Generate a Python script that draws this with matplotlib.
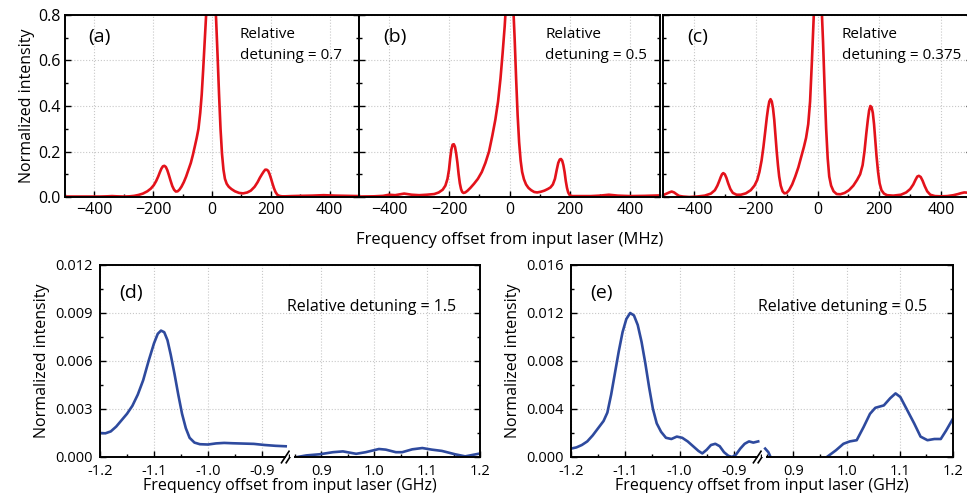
import numpy as np
import matplotlib
matplotlib.use('Agg')
import matplotlib.pyplot as plt
from matplotlib.ticker import MultipleLocator, FormatStrFormatter

plt.rcParams['font.family'] = ['Open Sans', 'DejaVu Sans']

# ── Data (MHz, normalized intensity) ───────────────────────────────────────
# (a) relative detuning 0.7
a_pts = [(-500, 0.002), (-440, 0.002), (-380, 0.002), (-355, 0.003), (-340, 0.004), (-325, 0.003),
         (-300, 0.002), (-280, 0.003), (-265, 0.005), (-250, 0.009), (-235, 0.015), (-220, 0.025),
         (-208, 0.037), (-198, 0.052), (-190, 0.07), (-183, 0.09), (-177, 0.11), (-172, 0.125),
         (-167, 0.135), (-162, 0.137), (-157, 0.132), (-152, 0.118), (-147, 0.098), (-141, 0.072),
         (-135, 0.048), (-129, 0.032), (-123, 0.024), (-117, 0.025), (-111, 0.032), (-104, 0.045),
         (-96, 0.065), (-88, 0.09), (-80, 0.12), (-72, 0.15), (-65, 0.185), (-58, 0.225),
         (-52, 0.26), (-46, 0.3), (-40, 0.37), (-35, 0.45), (-30, 0.56), (-25, 0.68), (-20, 0.8),
         (-14, 0.92), (-8, 0.99), (-3, 1.0), (3, 0.98), (9, 0.9), (14, 0.78), (19, 0.62),
         (24, 0.45), (29, 0.3), (34, 0.19), (39, 0.12), (44, 0.08), (50, 0.058), (57, 0.045),
         (66, 0.035), (78, 0.025), (92, 0.018), (106, 0.016), (120, 0.02), (132, 0.028),
         (145, 0.045), (155, 0.065), (163, 0.085), (170, 0.1), (176, 0.112), (181, 0.12),
         (186, 0.12), (191, 0.115), (196, 0.1), (201, 0.08), (206, 0.058), (211, 0.038),
         (216, 0.022), (222, 0.01), (229, 0.005), (238, 0.003), (250, 0.003), (270, 0.004),
         (300, 0.005), (340, 0.006), (380, 0.008), (420, 0.006), (460, 0.005), (500, 0.004)]

# (b) relative detuning 0.5
b_pts = [(-500, 0.002), (-450, 0.003), (-420, 0.005), (-400, 0.01), (-380, 0.008), (-350, 0.015),
         (-325, 0.01), (-300, 0.008), (-275, 0.01), (-250, 0.013), (-235, 0.02), (-222, 0.032),
         (-213, 0.05), (-206, 0.08), (-201, 0.12), (-197, 0.17), (-193, 0.21), (-189, 0.23),
         (-185, 0.232), (-181, 0.22), (-177, 0.19), (-173, 0.15), (-169, 0.1), (-165, 0.06),
         (-161, 0.035), (-157, 0.022), (-153, 0.018), (-147, 0.02), (-140, 0.027), (-130, 0.04),
         (-118, 0.058), (-105, 0.08), (-92, 0.11), (-80, 0.15), (-68, 0.2), (-57, 0.27),
         (-47, 0.34), (-38, 0.42), (-30, 0.52), (-23, 0.63), (-16, 0.75), (-10, 0.88), (-4, 0.98),
         (2, 1.0), (7, 0.96), (12, 0.85), (17, 0.7), (22, 0.52), (27, 0.36), (32, 0.24), (37, 0.16),
         (42, 0.11), (48, 0.078), (55, 0.055), (63, 0.04), (72, 0.03), (82, 0.022), (92, 0.02),
         (104, 0.023), (116, 0.028), (127, 0.035), (136, 0.042), (144, 0.055), (151, 0.08),
         (157, 0.12), (162, 0.15), (167, 0.165), (171, 0.167), (175, 0.16), (179, 0.14),
         (183, 0.11), (187, 0.07), (191, 0.04), (195, 0.02), (199, 0.01), (204, 0.005),
         (210, 0.004), (220, 0.004), (240, 0.004), (270, 0.004), (300, 0.006), (330, 0.01),
         (360, 0.006), (400, 0.004), (450, 0.005), (500, 0.007)]

# (c) relative detuning 0.375
c_pts = [(-500, 0.008), (-490, 0.014), (-480, 0.02), (-472, 0.024), (-464, 0.02), (-456, 0.012),
         (-448, 0.005), (-435, 0.002), (-415, 0.0), (-390, 0.002), (-365, 0.006), (-345, 0.015),
         (-332, 0.03), (-324, 0.05), (-318, 0.07), (-313, 0.088), (-309, 0.1), (-305, 0.105),
         (-300, 0.1), (-295, 0.085), (-289, 0.06), (-282, 0.035), (-274, 0.018), (-262, 0.01),
         (-248, 0.01), (-232, 0.016), (-216, 0.03), (-204, 0.05), (-195, 0.075), (-188, 0.11),
         (-181, 0.16), (-175, 0.22), (-169, 0.29), (-164, 0.35), (-160, 0.39), (-156, 0.42),
         (-152, 0.43), (-148, 0.42), (-144, 0.39), (-140, 0.34), (-136, 0.27), (-132, 0.2),
         (-128, 0.14), (-124, 0.09), (-119, 0.05), (-113, 0.025), (-107, 0.016), (-100, 0.018),
         (-92, 0.03), (-82, 0.055), (-72, 0.09), (-62, 0.13), (-52, 0.18), (-44, 0.22),
         (-37, 0.26), (-30, 0.32), (-24, 0.42), (-18, 0.6), (-12, 0.8), (-6, 0.95), (0, 1.0),
         (6, 0.98), (12, 0.88), (18, 0.68), (23, 0.48), (28, 0.3), (33, 0.17), (38, 0.09),
         (44, 0.05), (52, 0.025), (62, 0.013), (74, 0.012), (88, 0.018), (102, 0.03),
         (116, 0.05), (128, 0.075), (138, 0.1), (146, 0.14), (152, 0.2), (158, 0.28),
         (163, 0.34), (167, 0.38), (171, 0.4), (175, 0.395), (179, 0.37), (183, 0.32),
         (187, 0.25), (191, 0.18), (196, 0.11), (201, 0.06), (207, 0.03), (215, 0.015),
         (225, 0.008), (245, 0.006), (270, 0.01), (287, 0.02), (300, 0.035), (310, 0.055),
         (317, 0.075), (323, 0.09), (328, 0.093), (334, 0.088), (340, 0.072), (347, 0.048),
         (355, 0.025), (365, 0.01), (380, 0.004), (400, 0.003), (420, 0.004), (440, 0.008),
         (455, 0.013), (465, 0.017), (475, 0.02), (485, 0.019), (500, 0.02)]

# (d) relative detuning 1.5, negative / positive branch (GHz)
d_neg_pts = [(-1.2, 0.0015), (-1.19, 0.00148), (-1.18, 0.0016), (-1.17, 0.0019), (-1.16, 0.0023),
             (-1.15, 0.0027), (-1.14, 0.0032), (-1.13, 0.0039), (-1.12, 0.0048), (-1.11, 0.006),
             (-1.1, 0.0071), (-1.093, 0.0077), (-1.087, 0.0079), (-1.081, 0.0078), (-1.075, 0.0073),
             (-1.069, 0.0064), (-1.062, 0.0052), (-1.055, 0.0039), (-1.048, 0.0027), (-1.041, 0.0018),
             (-1.034, 0.0012), (-1.025, 0.0009), (-1.015, 0.0008), (-1.0, 0.00078), (-0.985, 0.00085),
             (-0.97, 0.00088), (-0.955, 0.00086), (-0.935, 0.00084), (-0.915, 0.00082),
             (-0.895, 0.00075), (-0.875, 0.0007), (-0.856, 0.00067)]
d_pos_pts = [(0.855, 0.0), (0.872, 0.0001), (0.897, 0.00017), (0.922, 0.0003), (0.941, 0.00035),
             (0.966, 0.0002), (0.984, 0.0003), (1.009, 0.0005), (1.022, 0.00046), (1.041, 0.0003),
             (1.053, 0.0003), (1.072, 0.00048), (1.091, 0.00056), (1.109, 0.00046), (1.128, 0.00038),
             (1.153, 0.00017), (1.172, 0.00004), (1.197, 0.0002)]

# (e) relative detuning 0.5
e_neg_pts = [(-1.2, 0.0007), (-1.19, 0.0008), (-1.18, 0.001), (-1.17, 0.0013), (-1.16, 0.0018),
             (-1.15, 0.0024), (-1.14, 0.003), (-1.133, 0.0037), (-1.126, 0.0052), (-1.119, 0.007),
             (-1.112, 0.0088), (-1.105, 0.0104), (-1.098, 0.0115), (-1.091, 0.012), (-1.084, 0.0118),
             (-1.077, 0.011), (-1.07, 0.0096), (-1.063, 0.0078), (-1.056, 0.0058), (-1.049, 0.004),
             (-1.042, 0.0028), (-1.034, 0.0021), (-1.025, 0.0016), (-1.015, 0.0015), (-1.005, 0.0017),
             (-0.995, 0.0016), (-0.985, 0.0013), (-0.975, 0.0009), (-0.965, 0.0005), (-0.958, 0.0003),
             (-0.95, 0.0006), (-0.942, 0.001), (-0.934, 0.0011), (-0.926, 0.0009), (-0.918, 0.0004),
             (-0.91, 0.0001), (-0.903, 0.0), (-0.896, 0.0002), (-0.888, 0.0007), (-0.88, 0.0011),
             (-0.872, 0.0013), (-0.864, 0.0012), (-0.855, 0.0013)]
e_pos_pts = [(0.847, 0.0007), (0.853, 0.0004), (0.857, 0.0), (0.862, -0.0004), (np.nan, np.nan),
             (0.958, -0.0004), (0.963, 0.0), (0.98, 0.00056), (0.994, 0.0011), (1.006, 0.0013),
             (1.019, 0.0014), (1.032, 0.0025), (1.044, 0.0036), (1.054, 0.0041), (1.07, 0.0043),
             (1.082, 0.0049), (1.092, 0.0053), (1.101, 0.005), (1.114, 0.0039), (1.127, 0.0028),
             (1.139, 0.0017), (1.152, 0.0014), (1.165, 0.0015), (1.177, 0.0015), (1.187, 0.0022),
             (1.2, 0.0032)]

top_labels = ['(a)', '(b)', '(c)']
top_detunings = ['0.7', '0.5', '0.375']
top_curves = [a_pts, b_pts, c_pts]

bottom_labels = ['(d)', '(e)']
bottom_detunings = ['1.5', '0.5']
bottom_ymax = [0.012, 0.016]
bottom_ystep = [0.003, 0.004]
bottom_curves = [(d_neg_pts, d_pos_pts), (e_neg_pts, e_pos_pts)]

RED = '#e3121b'
BLUE = '#2e4a9e'
W, H = 967, 493


def fig_rect(x0, y0, x1, y1):
    """Pixel box (top-left origin) -> figure fraction rect."""
    return [x0 / W, 1 - y1 / H, (x1 - x0) / W, (y1 - y0) / H]


def style_axis(ax, size=11.5):
    ax.tick_params(which='both', direction='in', labelsize=size, width=1.0)
    ax.tick_params(which='major', length=4)
    ax.tick_params(which='minor', length=2.5)
    for s in ax.spines.values():
        s.set_linewidth(1.4)
    ax.grid(True, which='major', linestyle=':', color='#c8c8c8', linewidth=0.8)
    ax.set_axisbelow(True)


fig = plt.figure(figsize=(W / 100, H / 100), dpi=100)

# ── Top row ────────────────────────────────────────────────────────────────
top_boxes = [(65, 15, 359, 197), (359, 15, 660, 197), (663, 15, 972, 197)]
note_x = [0.595, 0.618, 0.579]
for i, box in enumerate(top_boxes):
    xs, ys = zip(*top_curves[i])
    ax = fig.add_axes(fig_rect(*box))
    style_axis(ax)
    ax.plot(xs, ys, color=RED, lw=1.9)
    ax.set_xlim(-500, 500)
    ax.set_ylim(0, 0.8)
    ax.xaxis.set_major_locator(MultipleLocator(200))
    ax.xaxis.set_minor_locator(MultipleLocator(100))
    ax.yaxis.set_major_locator(MultipleLocator(0.2))
    ax.yaxis.set_minor_locator(MultipleLocator(0.1))
    ax.yaxis.set_major_formatter(FormatStrFormatter('%.1f'))
    ax.tick_params(which='both', right=True)
    if i == 0:
        ax.set_ylabel('Normalized intensity', fontsize=11.5, labelpad=2)
    else:
        ax.tick_params(labelleft=False)
    ax.text(0.08, 0.85, top_labels[i], transform=ax.transAxes, fontsize=14)
    ax.text(note_x[i], 0.76, 'Relative\ndetuning = ' + top_detunings[i], transform=ax.transAxes,
            fontsize=11, linespacing=1.5)

fig.text(510 / W, 1 - 240 / H, 'Frequency offset from input laser (MHz)',
         ha='center', va='center', fontsize=12)

# ── Bottom row (broken x axis) ─────────────────────────────────────────────
bottom_boxes = [(100, 290, 480), (571, 762, 953)]
for i, (x0, xm, x1) in enumerate(bottom_boxes):
    neg_pts, pos_pts = bottom_curves[i]
    axl = fig.add_axes(fig_rect(x0, 265, xm, 457))
    axr = fig.add_axes(fig_rect(xm, 265, x1, 457))
    for ax in (axl, axr):
        style_axis(ax, size=10.5)
        ax.set_ylim(0, bottom_ymax[i])
        ax.yaxis.set_major_locator(MultipleLocator(bottom_ystep[i]))
        ax.yaxis.set_minor_locator(MultipleLocator(bottom_ystep[i] / 2))
        ax.xaxis.set_major_locator(MultipleLocator(0.1))
        ax.xaxis.set_minor_locator(MultipleLocator(0.05))
        ax.xaxis.set_major_formatter(FormatStrFormatter('%.1f'))
        ax.tick_params(axis='x', pad=5)
    axl.plot(*zip(*neg_pts), color=BLUE, lw=1.9)
    axr.plot(*zip(*pos_pts), color=BLUE, lw=1.9)
    axl.set_xlim(-1.2, -0.848)
    axr.set_xlim(0.841, 1.2)
    axl.spines['right'].set_visible(False)
    axr.spines['left'].set_visible(False)
    axl.spines['bottom'].set_bounds(-1.2, -0.857)
    axr.spines['bottom'].set_bounds(0.85, 1.2)
    axl.yaxis.set_major_formatter(FormatStrFormatter('%.3f'))
    axl.tick_params(axis='y', pad=5)
    axr.tick_params(which='both', left=False, labelleft=False, right=True)
    axl.set_ylabel('Normalized intensity', fontsize=11.5, labelpad=4)
    axl.text(0.1, 0.83, bottom_labels[i], transform=axl.transAxes, fontsize=14)
    # break marks "//"
    for dx in (-0.025, 0.0):
        axl.plot([1 + dx - 0.02, 1 + dx + 0.02], [-0.03, 0.03],
                 transform=axl.transAxes, color='black', lw=1.2, clip_on=False)
    fig.text((x0 + 187) / W, 1 - 307 / H, 'Relative detuning = ' + bottom_detunings[i],
             va='center', fontsize=11.5)
    fig.text(xm / W, 1 - 486 / H, 'Frequency offset from input laser (GHz)',
             ha='center', va='center', fontsize=11.5)

fig.savefig('out.png', dpi=100)
